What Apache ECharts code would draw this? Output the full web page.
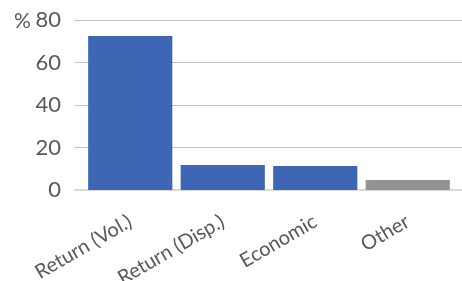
<!DOCTYPE html>
<html>
<head>
<meta charset="utf-8">
<script src="https://cdn.jsdelivr.net/npm/echarts@6/dist/echarts.min.js"></script>
<style>
html,body{margin:0;padding:0;background:#fff;}
#chart{width:462px;height:281px;}
</style>
</head>
<body>
<div id="chart"></div>
<script>
var categories = ['Return (Vol.)', 'Return (Disp.)', 'Economic', 'Other'];
var values = [72.5, 11.8, 11.3, 4.7];
var barColors = ['#3f65b5', '#3f65b5', '#3f65b5', '#939393'];
var yTicks = [0, 20, 40, 60, 80];

var fontFam = 'Lato, "Open Sans", sans-serif';

var chart = echarts.init(document.getElementById('chart'));
var option = {
    animation: false,
    title: {
        text: '%',
        left: 9,
        top: 6,
        textStyle: { color: '#595959', fontSize: 21, fontWeight: 'normal', fontFamily: fontFam }
    },
    grid: [
        // bars
        { left: 84, right: 8, top: 20, bottom: 91, containLabel: false, outerBoundsMode: 'none' },
        // gridlines only, a bit wider
        { left: 74, right: 0, top: 20, bottom: 91, containLabel: false, outerBoundsMode: 'none' }
    ],
    xAxis: [
        {
            type: 'category',
            gridIndex: 0,
            data: categories,
            axisTick: { show: false },
            axisLine: { show: false },
            axisLabel: {
                rotate: 30,
                margin: 30,
                color: '#595959',
                fontSize: 20,
                fontFamily: fontFam,
                interval: 0
            }
        },
        {
            type: 'value',
            gridIndex: 1,
            show: false,
            min: 0,
            max: 1
        }
    ],
    yAxis: [
        {
            type: 'value',
            gridIndex: 0,
            min: yTicks[0],
            max: yTicks[yTicks.length - 1],
            interval: 20,
            axisLine: { show: false },
            axisTick: { show: false },
            splitLine: { show: false },
            axisLabel: { show: false }
        },
        {
            type: 'value',
            gridIndex: 1,
            min: yTicks[0],
            max: yTicks[yTicks.length - 1],
            interval: 20,
            axisLine: { show: false },
            axisTick: { show: false },
            splitLine: {
                show: true,
                lineStyle: {
                    color: ['#d9d9d9', '#c4c4c4', '#c4c4c4', '#c4c4c4', '#c4c4c4'],
                    width: 1
                }
            },
            axisLabel: {
                color: '#595959',
                fontSize: 22,
                fontFamily: fontFam,
                margin: 13
            }
        }
    ],
    series: [
        {
            type: 'bar',
            xAxisIndex: 0,
            yAxisIndex: 0,
            barCategoryGap: '9%',
            data: values.map(function (v, i) {
                return { value: v, itemStyle: { color: barColors[i] } };
            })
        },
        {
            // baseline at 0, light and slightly thicker
            type: 'line',
            xAxisIndex: 1,
            yAxisIndex: 1,
            symbol: 'none',
            silent: true,
            data: [[0, 0], [1, 0]],
            lineStyle: { color: '#d9d9d9', width: 2 },
            z: 1
        }
    ]
};
chart.setOption(option);
</script>
</body>
</html>
